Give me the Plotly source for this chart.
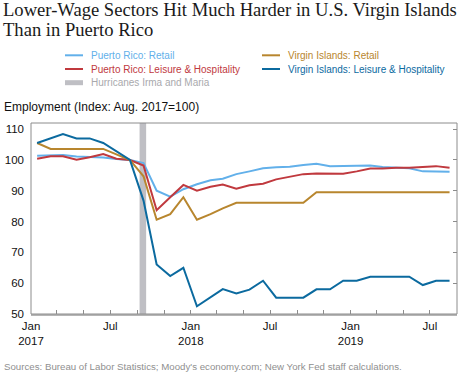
import pandas as pd
import plotly.graph_objects as go

# ---------------- data ----------------
months = pd.date_range("2017-01-01", "2019-08-01", freq="MS") + pd.Timedelta(days=14)

pr_retail = [101.4, 101.6, 101.6, 101.1, 101.0, 100.8, 100.3, 100.0,
             99.0, 90.0, 88.1, 90.5, 92.1, 93.4, 93.9, 95.4,
             96.3, 97.3, 97.6, 97.8, 98.4, 98.8, 98.0, 98.0,
             98.1, 98.2, 97.7, 97.4, 97.3, 96.3, 96.2, 96.2]
pr_leisure = [100.4, 101.2, 101.2, 100.1, 100.9, 101.9, 100.4, 100.0,
              98.2, 83.7, 87.9, 91.9, 90.0, 91.3, 92.0, 90.7,
              91.8, 92.3, 93.7, 94.5, 95.4, 95.6, 95.6, 95.5,
              96.3, 97.2, 97.2, 97.5, 97.5, 97.8, 98.0, 97.5]
vi_retail = [105.5, 103.6, 103.6, 103.6, 103.6, 103.6, 101.8, 100.0,
             94.7, 80.6, 82.4, 87.9, 80.6, 82.4, 84.3, 86.1,
             86.1, 86.1, 86.1, 86.1, 86.1, 89.5, 89.5, 89.5,
             89.5, 89.5, 89.5, 89.5, 89.5, 89.5, 89.5, 89.5]
vi_leisure = [105.5, 107.0, 108.4, 107.0, 107.0, 105.5, 102.8, 100.0,
              86.8, 66.1, 62.3, 65.0, 52.5, 55.3, 58.1, 56.7,
              57.9, 60.8, 55.3, 55.3, 55.3, 58.0, 58.0, 60.8,
              60.8, 62.1, 62.1, 62.1, 62.1, 59.4, 60.8, 60.8]

hurricane_start = "2017-09-06"
hurricane_end = "2017-09-21"

series_names = ["Puerto Rico: Retail", "Puerto Rico: Leisure & Hospitality",
                "Virgin Islands: Retail", "Virgin Islands: Leisure & Hospitality"]
series_values = [pr_retail, pr_leisure, vi_retail, vi_leisure]
series_colors = ["#62b0ea", "#c0393e", "#b8862e", "#0b6a9f"]
band_name = "Hurricanes Irma and Maria"
band_color = "#bfbfc4"

y_ticks = [50, 60, 70, 80, 90, 100, 110]
x_tickvals = pd.date_range("2017-01-01", "2019-07-01", freq="2MS")
x_ticktext = []
for d in x_tickvals:
    if d.month == 1:
        x_ticktext.append(f"Jan<br>{d.year}")
    elif d.month == 7:
        x_ticktext.append("Jul")
    else:
        x_ticktext.append("")

# ---------------- figure ----------------
W, H = 460, 374
L, R, T, B = 31, 3, 123, 60
pw, ph = W - L - R, H - T - B

def px(xp):
    return (xp - L) / pw

def py(yp):
    return (H - B - yp) / ph

fig = go.Figure()

# hurricane band
fig.add_shape(type="rect", xref="x", yref="paper", x0=hurricane_start, x1=hurricane_end,
              y0=0, y1=1, fillcolor=band_color, line_width=0, layer="below")

for name, vals, col in zip(series_names, series_values, series_colors):
    fig.add_trace(go.Scatter(x=months, y=vals, mode="lines", name=name,
                             line=dict(color=col, width=2), showlegend=False,
                             hoverinfo="skip"))

# dummy trace for right-side ticks
fig.add_trace(go.Scatter(x=[None], y=[None], yaxis="y2", showlegend=False,
                         hoverinfo="skip"))

# frame
fig.add_shape(type="rect", xref="paper", yref="paper", x0=0, x1=1, y0=0, y1=1,
              line=dict(color="#8c8c8c", width=1), layer="above")

font_sans = "Arial"

# manual legend
legend_items = [
    (series_names[0], series_colors[0], 65, 55.3, "line"),
    (series_names[1], series_colors[1], 65, 69.0, "line"),
    (band_name, band_color, 65, 82.7, "band"),
    (series_names[2], series_colors[2], 262, 55.3, "line"),
    (series_names[3], series_colors[3], 262, 69.0, "line"),
]
for text, col, x0, yc, kind in legend_items:
    if kind == "line":
        fig.add_shape(type="line", xref="paper", yref="paper",
                      x0=px(x0), x1=px(x0 + 18), y0=py(yc), y1=py(yc),
                      line=dict(color=col, width=2))
        tcol = col
    else:
        fig.add_shape(type="rect", xref="paper", yref="paper",
                      x0=px(x0), x1=px(x0 + 18), y0=py(yc - 2.5), y1=py(yc + 2.5),
                      fillcolor=col, line_width=0)
        tcol = "#a9a9ad"
    fig.add_annotation(text=text, xref="paper", yref="paper", x=px(x0 + 24), y=py(yc),
                       xanchor="left", yanchor="middle", showarrow=False,
                       font=dict(family=font_sans, size=10, color=tcol))

# title (two lines)
title_font = dict(family="Liberation Serif", size=18.6, color="#1a1a1a")
fig.add_annotation(text="Lower-Wage Sectors Hit Much Harder in U.S. Virgin Islands",
                   xref="paper", yref="paper", x=px(1), y=py(9.5), xanchor="left",
                   yanchor="middle", showarrow=False, font=title_font)
fig.add_annotation(text="Than in Puerto Rico",
                   xref="paper", yref="paper", x=px(1), y=py(29), xanchor="left",
                   yanchor="middle", showarrow=False, font=title_font)

# axis title
fig.add_annotation(text="Employment (Index: Aug. 2017=100)", xref="paper", yref="paper",
                   x=px(2), y=py(107), xanchor="left", yanchor="middle", showarrow=False,
                   font=dict(family=font_sans, size=12, color="#111111"))

# source
fig.add_annotation(text="Sources: Bureau of Labor Statistics; Moody's economy.com; New York Fed staff calculations.",
                   xref="paper", yref="paper", x=px(2), y=py(366), xanchor="left",
                   yanchor="middle", showarrow=False,
                   font=dict(family=font_sans, size=9.7, color="#8f8f8f"))

fig.update_layout(
    width=W, height=H,
    margin=dict(l=L, r=R, t=T, b=B, pad=0),
    paper_bgcolor="white", plot_bgcolor="white",
    showlegend=False, hovermode=False,
    xaxis=dict(type="date", range=["2017-01-01", "2019-09-01"],
               tickvals=x_tickvals, ticktext=x_ticktext,
               ticks="inside", ticklen=4, tickcolor="#8c8c8c", tickwidth=1,
               showline=True, linecolor="#b5b5b5", linewidth=2,
               showgrid=False, zeroline=False,
               tickfont=dict(family=font_sans, size=11.5, color="#111111")),
    yaxis=dict(range=[50, 112], tickvals=y_ticks, ticks="", showgrid=False,
               zeroline=False, showline=False, ticklabelstandoff=6,
               tickfont=dict(family=font_sans, size=11.5, color="#111111")),
    yaxis2=dict(range=[50, 112], tickvals=y_ticks, overlaying="y", side="right",
                ticks="inside", ticklen=4, tickcolor="#8c8c8c", showticklabels=False,
                showgrid=False, zeroline=False, showline=False),
)

fig.write_html("out.html", config={"displayModeBar": False},
               post_script="document.body.style.margin='0px';")
